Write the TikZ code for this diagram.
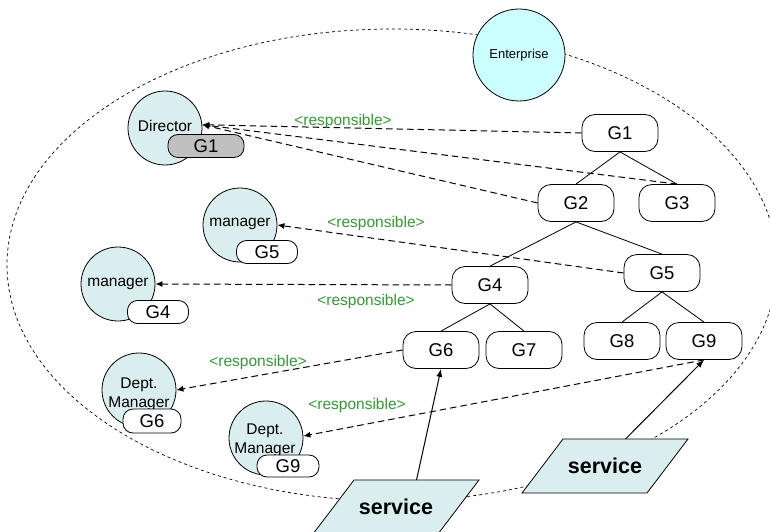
\documentclass[tikz,border=0pt]{standalone}
\usepackage{fontspec}
\setmainfont{Liberation Sans}
\usetikzlibrary{arrows.meta}
\definecolor{actorfill}{RGB}{218,238,240}
\definecolor{entfill}{RGB}{204,255,255}
\definecolor{respgreen}{RGB}{51,153,51}
\definecolor{tagfill}{RGB}{192,192,192}
\begin{document}
\begin{tikzpicture}[x=1pt,y=-1pt,
  actor/.style={circle,draw,fill=actorfill,minimum size=74pt,inner sep=0pt,line width=0.8pt,align=center,font=\fontsize{15.5}{18}\selectfont},
  actortext/.style={inner sep=0pt,align=center,font=\fontsize{15.5}{19}\selectfont},
  entcircle/.style={circle,draw,fill=entfill,minimum size=92pt,inner sep=0pt,line width=0.8pt,font=\fontsize{13}{15}\selectfont},
  goal/.style={draw,fill=white,rounded corners=13pt,minimum width=76pt,minimum height=37pt,inner sep=0pt,line width=0.8pt,font=\fontsize{18.5}{20}\selectfont},
  tagbox/.style={draw,fill=white,rounded corners=10pt,minimum width=61pt,minimum height=23pt,inner sep=0pt,line width=0.8pt,font=\fontsize{18.5}{20}\selectfont},
  treeline/.style={line width=0.8pt},
  respline/.style={line width=1pt,dash pattern=on 6.5pt off 4pt,-{Latex[length=7pt,width=6pt]}},
  resplabel/.style={text=respgreen,inner sep=0pt,font=\fontsize{15.5}{18}\selectfont},
  svcshape/.style={draw,fill=actorfill,line width=0.8pt},
  svctext/.style={inner sep=0pt,font=\fontsize{21.5}{24}\selectfont\bfseries},
  svcarrow/.style={line width=1pt,-{Latex[length=8pt,width=6pt]}}
]
\useasboundingbox (0,0) rectangle (770,532);
% enterprise boundary
\draw[line width=0.7pt,dash pattern=on 3pt off 3pt] (392,265) ellipse [x radius=385pt, y radius=236pt];
\node[entcircle] (ent) at (519,55) {Enterprise};

% actors
\node[actor] (dir) at (165,128) {};
\node[actortext] (dirx) at (165,126) {Director};
\node[tagbox,fill=tagfill,minimum width=76pt] (dirg1) at (206,146) {G1};
\node[actor] (mg5) at (240,225) {};
\node[actortext] (mg5x) at (240,224) {manager};
\node[tagbox] (mg5t) at (267,252) {G5};
\node[actor] (mg4) at (118,284) {};
\node[actortext] (mg4x) at (118,284) {manager};
\node[tagbox] (mg4t) at (158,312) {G4};
\node[actor] (dm6) at (139,390) {};
\node[actortext] (dm6x) at (139,394) {Dept.\\Manager};
\node[tagbox,minimum width=58pt,minimum height=24pt] (dm6t) at (152,421) {G6};
\node[actor] (dm9) at (266,438) {};
\node[actortext] (dm9x) at (265,440) {Dept.\\Manager};
\node[tagbox,minimum width=62pt,minimum height=22pt] (dm9t) at (288,466) {G9};

% goal tree
\node[goal] (G1) at (620,133) {G1};
\node[goal] (G2) at (576,203) {G2};
\node[goal] (G3) at (677,203) {G3};
\node[goal] (G4) at (490,285) {G4};
\node[goal] (G5) at (662,273) {G5};
\node[goal] (G6) at (441,350) {G6};
\node[goal] (G7) at (524,350) {G7};
\node[goal] (G8) at (622,341) {G8};
\node[goal] (G9) at (704,341) {G9};

\draw[treeline] (G1.south) -- (G2.north);
\draw[treeline] (G1.south) -- (G3.north);
\draw[treeline] (G2.south) -- (G4.north);
\draw[treeline] (G2.south) -- (G5.north);
\draw[treeline] (G4.south) -- (G6.north);
\draw[treeline] (G4.south) -- (G7.north);
\draw[treeline] (G5.south) -- (G8.north);
\draw[treeline] (G5.south) -- (G9.north);

% responsibility links
\draw[respline] (G1.west) -- (dir.5);
\draw[respline] (G2.west) -- (dir.5);
\draw[respline] (G3.north) -- (dir.5);
\draw[respline] (G5.west) -- (mg5.east);
\draw[respline] (G4.west) -- (mg4.east);
\draw[respline] (G6.west) -- (dm6.east);
\draw[respline] (G9.south) -- (dm9.3);

\node[resplabel] (l1) at (343,121) {<responsible>};
\node[resplabel] (l2) at (376,223) {<responsible>};
\node[resplabel] (l3) at (366,301) {<responsible>};
\node[resplabel] (l4) at (258,362) {<responsible>};
\node[resplabel] (l5) at (357,405) {<responsible>};

% services
\draw[svcshape] (354,480) -- (479,480) -- (438,534) -- (313,534) -- cycle;
\node[svctext] (s1) at (396,507) {service};
\coordinate (s1top) at (416.5,480);
\draw[svcshape] (563,439) -- (688,439) -- (647,493) -- (522,493) -- cycle;
\node[svctext] (s2) at (605,466) {service};
\coordinate (s2top) at (625.5,439);

\draw[svcarrow] (s1top) -- (G6.south);
\draw[svcarrow] (s2top) -- (G9.south);
\end{tikzpicture}
\end{document}
